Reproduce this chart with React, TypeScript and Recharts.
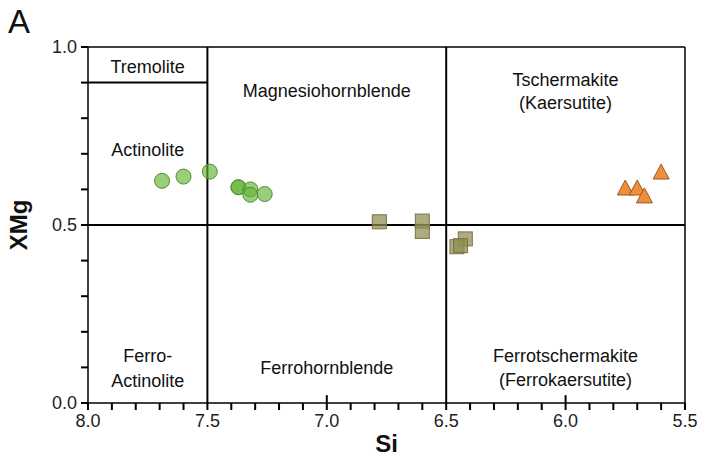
import { ScatterChart, Scatter, XAxis, YAxis, ReferenceLine, ReferenceDot } from "recharts";

const FONT = "'Liberation Sans', Arial, sans-serif";

// sample groups (Si apfu vs XMg)
const actSi = [7.69, 7.6, 7.49, 7.37, 7.37, 7.32, 7.32, 7.26];
const actXMg = [0.624, 0.636, 0.65, 0.606, 0.606, 0.6, 0.585, 0.587];
const hblSi = [6.78, 6.6, 6.6, 6.42, 6.455, 6.44];
const hblXMg = [0.509, 0.511, 0.482, 0.461, 0.439, 0.442];
const tsSi = [5.6, 5.75, 5.7, 5.67];
const tsXMg = [0.646, 0.601, 0.601, 0.579];

const xMajor = [8.0, 7.5, 7.0, 6.5, 6.0, 5.5];
const xInner = [7.0, 6.0];
const xTicks = [8.0, 7.9, 7.8, 7.7, 7.6, 7.5, 7.4, 7.3, 7.2, 7.1, 7.0, 6.9, 6.8, 6.7, 6.6, 6.5, 6.4, 6.3, 6.2, 6.1, 6.0, 5.9, 5.8, 5.7, 5.6, 5.5];
const yMajor = [0.0, 0.5, 1.0];
const yTicks = [0.0, 0.1, 0.2, 0.3, 0.4, 0.5, 0.6, 0.7, 0.8, 0.9, 1.0];

// field names, anchored in data coords
const fieldText = ["Tremolite", "Magnesiohornblende", "Tschermakite", "(Kaersutite)", "Actinolite", "Ferro-", "Actinolite", "Ferrohornblende", "Ferrotschermakite", "(Ferrokaersutite)"];
const fieldSi = [7.75, 7.0, 6.0, 6.0, 7.75, 7.75, 7.75, 7.0, 6.0, 6.0];
const fieldXMg = [0.944, 0.876, 0.907, 0.843, 0.711, 0.132, 0.062, 0.098, 0.132, 0.065];

const zip = (xs: number[], ys: number[]) => xs.map((x, i) => ({ x, y: ys[i] }));
const actData = zip(actSi, actXMg);
const hblData = zip(hblSi, hblXMg);
const tsData = zip(tsSi, tsXMg);

const isMajor = (v: number, majors: number[]) => majors.some((m) => Math.abs(m - v) < 1e-6);

const XTick = (props: any) => {
  const { x, y, payload } = props;
  return (
    <text x={x} y={y + 13} textAnchor="middle" fontSize={18} fontFamily={FONT} fill="#222">
      {isMajor(payload.value, xMajor) ? payload.value.toFixed(1) : ""}
    </text>
  );
};

const YTick = (props: any) => {
  const { x, y, payload } = props;
  return (
    <text x={x} y={y + 6} textAnchor="end" fontSize={18} fontFamily={FONT} fill="#222">
      {isMajor(payload.value, yMajor) ? payload.value.toFixed(1) : ""}
    </text>
  );
};

const Circle = (p: any) => (
  <circle cx={p.cx} cy={p.cy} r={7.5} fill="#62b434" fillOpacity={0.65} stroke="#4f8f2e" strokeWidth={1} />
);
const Square = (p: any) => (
  <rect x={p.cx - 7} y={p.cy - 7} width={14} height={14} fill="#8f8c4c" fillOpacity={0.72} stroke="#77744a" strokeWidth={1} />
);
const Triangle = (p: any) => (
  <path
    d={`M${p.cx},${p.cy - 9} L${p.cx + 8},${p.cy + 6} L${p.cx - 8},${p.cy + 6} Z`}
    fill="#ef8f3a"
    stroke="#9a5a25"
    strokeWidth={1}
  />
);

export default function App() {
  return (
    <div style={{ position: "absolute", left: 0, top: 0 }}>
      <div style={{ position: "absolute", left: 8, top: 2, fontSize: 33, fontFamily: FONT, color: "#111", lineHeight: "40px" }}>A</div>
      <ScatterChart width={703} height={461} margin={{ top: 47, right: 18, bottom: 0, left: 0 }}>
        <XAxis
          type="number"
          dataKey="x"
          domain={[5.5, 8]}
          reversed
          ticks={xTicks}
          interval={0}
          tickSize={7}
          tickMargin={4}
          tickLine={{ stroke: "#000", strokeWidth: 2 }}
          tick={<XTick />}
          height={58}
          axisLine={{ stroke: "#000", strokeWidth: 1.5 }}
          label={{
            value: "Si",
            position: "insideBottom",
            offset: 9,
            style: { fontSize: 24, fontWeight: "bold", fontFamily: FONT, fill: "#111" },
          }}
        />
        <YAxis
          type="number"
          dataKey="y"
          domain={[0, 1]}
          ticks={yTicks}
          interval={0}
          tickSize={7}
          tickMargin={4}
          tickLine={{ stroke: "#000", strokeWidth: 2 }}
          tick={<YTick />}
          width={88}
          axisLine={{ stroke: "#000", strokeWidth: 1.5 }}
          label={{
            content: (lp: any) => {
              const vb = lp.viewBox;
              const cy = vb.y + vb.height / 2;
              return (
                <text
                  transform={`translate(27,${cy}) rotate(-90)`}
                  textAnchor="middle"
                  fontSize={24}
                  fontWeight="bold"
                  fontFamily={FONT}
                  fill="#111"
                >
                  XMg
                </text>
              );
            },
          }}
        />
        <ReferenceLine y={1} stroke="#000" strokeWidth={1.5} />
        <ReferenceLine x={5.5} stroke="#000" strokeWidth={1.5} />
        <ReferenceLine x={7.5} stroke="#000" strokeWidth={2} />
        <ReferenceLine x={6.5} stroke="#000" strokeWidth={2} />
        <ReferenceLine y={0.5} stroke="#000" strokeWidth={2} />
        <ReferenceLine segment={[{ x: 8, y: 0.9 }, { x: 7.5, y: 0.9 }]} stroke="#000" strokeWidth={2} />
        {xInner.map((v) => (
          <ReferenceLine key={v} segment={[{ x: v, y: 0 }, { x: v, y: 0.022 }]} stroke="#000" strokeWidth={2} />
        ))}
        {fieldText.map((t, i) => (
          <ReferenceDot
            key={i}
            x={fieldSi[i]}
            y={fieldXMg[i]}
            r={0}
            shape={(p: any) => (
              <text x={p.cx} y={p.cy + 6} textAnchor="middle" fontSize={18} fontFamily={FONT} fill="#111">
                {t}
              </text>
            )}
          />
        ))}
        <Scatter data={actData} shape={<Circle />} isAnimationActive={false} />
        <Scatter data={hblData} shape={<Square />} isAnimationActive={false} />
        <Scatter data={tsData} shape={<Triangle />} isAnimationActive={false} />
      </ScatterChart>
    </div>
  );
}
